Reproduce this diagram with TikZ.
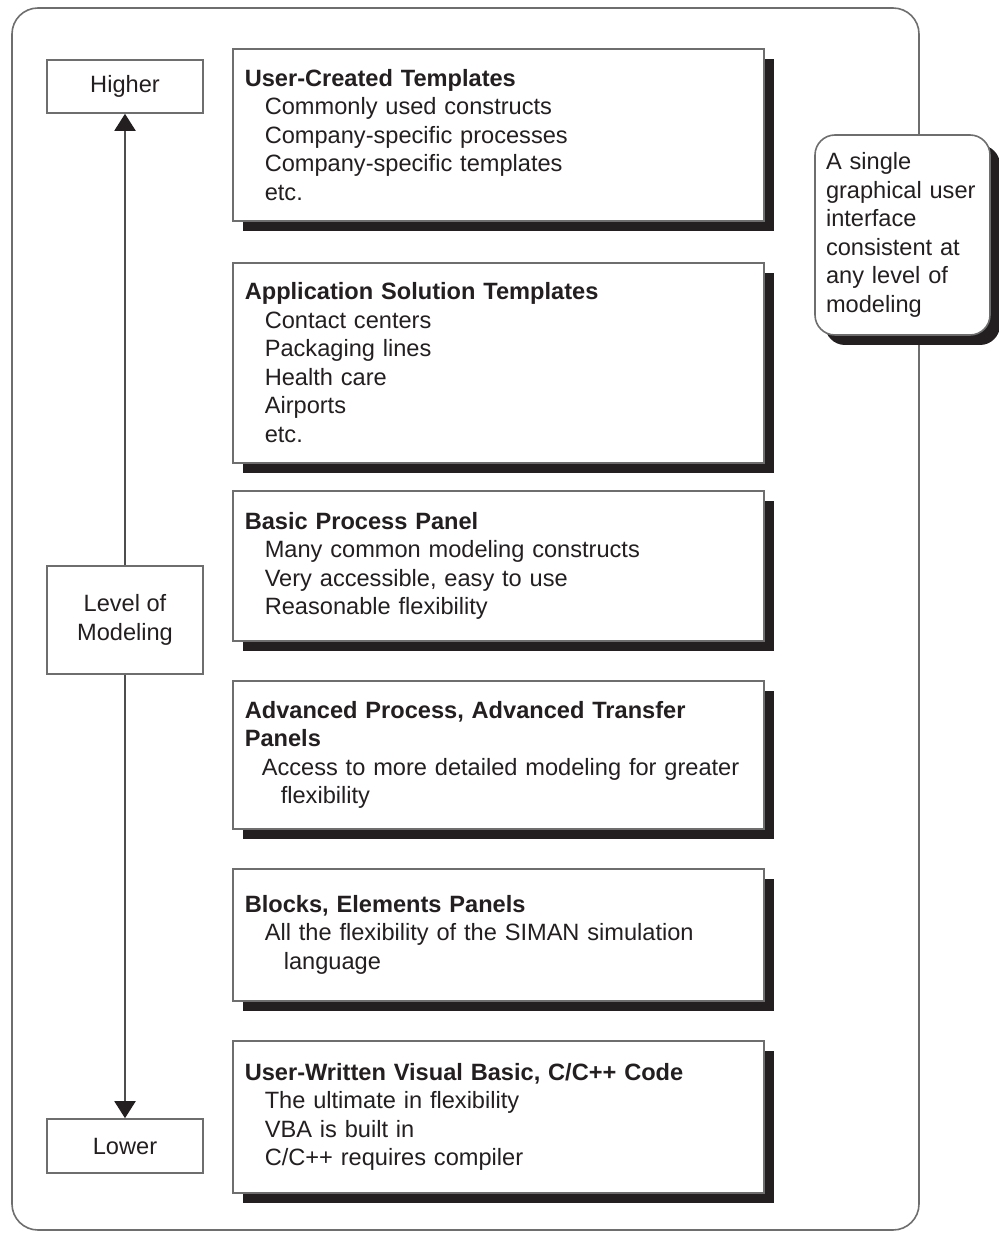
\documentclass[tikz,border=0pt]{standalone}
\usepackage{fontspec}
\setmainfont{Liberation Sans}
\usepackage{xcolor}
\usepackage{tikz}
\usetikzlibrary{shadows,arrows.meta}

\definecolor{inkgray}{HTML}{231F20}
\definecolor{rulegray}{HTML}{6E6E6E}
\newcommand{\indentline}{\hspace*{10pt}}

\begin{document}
\begin{tikzpicture}[x=0.5pt, y=-0.5pt,
    every node/.style={font=\fontsize{11.8}{14.25}\selectfont, text=inkgray},
    levelbox/.style={draw=rulegray, line width=0.8pt, fill=white, minimum width=78pt, align=center, inner sep=0pt},
    panelbox/.style={draw=rulegray, line width=0.8pt, fill=white, anchor=north west, text width=253.5pt, inner xsep=6pt, inner ysep=0pt, align=left, drop shadow={shadow xshift=5pt, shadow yshift=-5pt, fill=inkgray, opacity=1}},
    connector/.style={draw=rulegray!70!black, line width=1pt, -{Triangle[width=10.5pt,length=8.5pt,color=inkgray,fill=inkgray]}}]
    \useasboundingbox (0,0) rectangle (998,1234);
    % outer frame
    \draw[rulegray, line width=0.8pt, rounded corners=13pt] (12,8) rectangle (919,1230);
    %
    \node[levelbox, minimum height=26.5pt] (higher) at (125,86.5) {Higher};
    \node[levelbox, minimum height=54pt] (level) at (125,620) {Level of\\Modeling};
    \node[levelbox, minimum height=27pt] (lower) at (125,1146) {Lower};
    \draw[connector] (level) -- (higher);
    \draw[connector] (level) -- (lower);
    %
    \node[panelbox, minimum height=86pt] (usercreated) at (232,48) {\textbf{User-Created Templates}\\
        \indentline Commonly used constructs\\
        \indentline Company-specific processes\\
        \indentline Company-specific templates\\
        \indentline etc.};
    \node[panelbox, minimum height=100pt] (appsolution) at (232,262) {\textbf{Application Solution Templates}\\
        \indentline Contact centers\\
        \indentline Packaging lines\\
        \indentline Health care\\
        \indentline Airports\\
        \indentline etc.};
    \node[panelbox, minimum height=75pt] (basicpanel) at (232,490) {\textbf{Basic Process Panel}\\
        \indentline Many common modeling constructs\\
        \indentline Very accessible, easy to use\\
        \indentline Reasonable flexibility};
    \node[panelbox, minimum height=74pt] (advpanel) at (232,680) {\textbf{Advanced Process, Advanced Transfer}\\
        \textbf{Panels}\\
        \hspace*{8.5pt}Access to more detailed modeling for greater\\
        \hspace*{18pt}flexibility};
    \node[panelbox, minimum height=66pt] (blockspanel) at (232,868) {\textbf{Blocks, Elements Panels}\\
        \indentline All the flexibility of the SIMAN simulation\\
        \hspace*{19.5pt}language};
    \node[panelbox, minimum height=76pt] (usercode) at (232,1040) {\textbf{User-Written Visual Basic, C/C++ Code}\\
        \indentline The ultimate in flexibility\\
        \indentline VBA is built in\\
        \indentline C/C++ requires compiler};
    %
    \node[draw=rulegray, line width=0.8pt, fill=white, rounded corners=10pt, minimum width=87.5pt, minimum height=100pt, text width=76.5pt, inner xsep=5.5pt, align=left, drop shadow={shadow xshift=5pt, shadow yshift=-5pt, fill=inkgray, opacity=1}] (gui) at (902.5,235) {A single\\graphical user\\interface\\consistent at\\any level of\\modeling};
\end{tikzpicture}
\end{document}
